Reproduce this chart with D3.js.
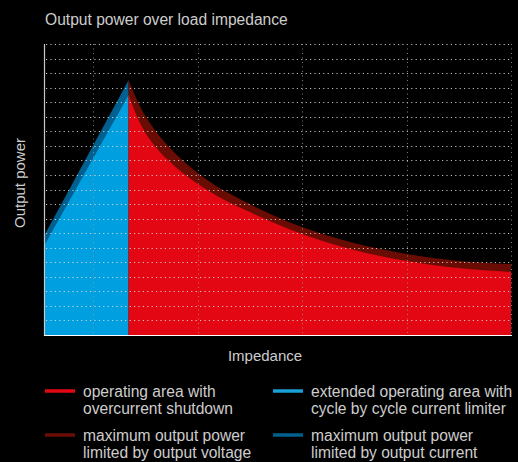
<!DOCTYPE html>
<html>
<head>
<meta charset="utf-8">
<script src="https://cdn.jsdelivr.net/npm/d3@7"></script>
<style>
  html, body { margin: 0; padding: 0; background: #000; }
  svg { display: block; }
  text { font-family: "Liberation Sans", Arial, sans-serif; fill: #cdcdcd; }
</style>
</head>
<body>
<svg id="chart" width="518" height="462"></svg>
<script>
// impedance positions (arbitrary units) and output power readings
let current_x   = [0.53, 1.34];
let current_max = [6.8, 17.53];   // max output power limited by output current
let current_op  = [6.12, 16.49];  // extended operating area (cycle by cycle limiter)

let voltage_x   = [1.34, 1.45, 1.6, 1.75, 2.1, 2.5, 3, 3.5, 4, 4.5, 5];
let voltage_max = [17.53, 15.7, 14.0, 12.75, 10.62, 9.0, 7.42, 6.32, 5.57, 5.09, 4.88];
let voltage_op  = [16.49, 14.55, 12.9, 11.8, 9.93, 8.45, 6.94, 5.84, 5.09, 4.6, 4.33];

let x_ticks = [1, 2, 3, 4, 5];
let y_ticks = d3.range(1, 21);

let legend_labels = [
  ["operating area with", "overcurrent shutdown"],
  ["extended operating area with", "cycle by cycle current limiter"],
  ["maximum output power", "limited by output voltage"],
  ["maximum output power", "limited by output current"]
];
let legend_colors = ["#e30613", "#1a9fd9", "#6b0d04", "#00608f"];

let chart = d3.select("#chart");

// scales
let x = d3.scaleLinear()
    .domain([0.53, 5])
    .range([44, 511]);
let y = d3.scaleLinear()
    .domain([0, 20])
    .range([335, 44]);

function areaOf(xs, ys, curve) {
  return d3.area()
      .x(function (d, i) { return x(xs[i]); })
      .y0(y(0))
      .y1(function (d) { return y(d); })
      .curve(curve)(ys);
}

// dark bands first, then the fills on top
chart.append("path")
    .attr("d", areaOf(current_x, current_max, d3.curveLinear))
    .attr("fill", "#00608f");
chart.append("path")
    .attr("d", areaOf(current_x, current_op, d3.curveLinear))
    .attr("fill", "#009fe0");
chart.append("path")
    .attr("d", areaOf(voltage_x, voltage_max, d3.curveMonotoneX))
    .attr("fill", "#690c03");
chart.append("path")
    .attr("d", areaOf(voltage_x, voltage_op, d3.curveMonotoneX))
    .attr("fill", "#e30613");

// grid, drawn over the areas
chart.append("g")
    .selectAll("line")
    .data(y_ticks)
    .enter()
    .append("line")
    .attr("x1", 46).attr("x2", 511)
    .attr("y1", function (d) { return Math.round(y(d)) + 0.5; })
    .attr("y2", function (d) { return Math.round(y(d)) + 0.5; })
    .attr("stroke", "#e0e0e0")
    .attr("stroke-opacity", 0.85)
    .attr("stroke-dasharray", "1.2,3.2");

chart.append("g")
    .selectAll("line")
    .data(x_ticks)
    .enter()
    .append("line")
    .attr("x1", function (d) { return Math.round(x(d)) + 0.5; })
    .attr("x2", function (d) { return Math.round(x(d)) + 0.5; })
    .attr("y1", 44).attr("y2", 335)
    .attr("stroke", "#9a9a9a")
    .attr("stroke-opacity", 0.8)
    .attr("stroke-dasharray", "1,3.5");

// axis lines
chart.append("line")
    .attr("x1", 44.5).attr("x2", 44.5)
    .attr("y1", 44).attr("y2", 336)
    .attr("stroke", "#c8c8c8")
    .attr("stroke-width", 1.2);
chart.append("line")
    .attr("x1", 44).attr("x2", 512)
    .attr("y1", 335.5).attr("y2", 335.5)
    .attr("stroke", "#ffffff")
    .attr("stroke-width", 1.2);

// title and axis labels
chart.append("text")
    .text("Output power over load impedance")
    .attr("x", 45)
    .attr("y", 25)
    .style("font-size", "15.6px");

chart.append("text")
    .text("Output power")
    .attr("transform", "translate(25,183) rotate(-90)")
    .attr("text-anchor", "middle")
    .style("font-size", "15px");

chart.append("text")
    .text("Impedance")
    .attr("x", 265)
    .attr("y", 361)
    .attr("text-anchor", "middle")
    .style("font-size", "15px");

// legend
let legend = chart.append("g");
legend_labels.forEach(function (lines, i) {
  let col = i % 2, row = Math.floor(i / 2);
  let lx = col === 0 ? 45 : 273;
  let ly = row === 0 ? 391 : 435;
  legend.append("line")
      .attr("x1", lx).attr("x2", lx + 30)
      .attr("y1", ly).attr("y2", ly)
      .attr("stroke", legend_colors[i])
      .attr("stroke-width", 3.5);
  lines.forEach(function (t, j) {
    legend.append("text")
        .text(t)
        .attr("x", lx + 38)
        .attr("y", ly + 5.5 + j * 17.5)
        .style("font-size", "15.6px");
  });
});
</script>
</body>
</html>
